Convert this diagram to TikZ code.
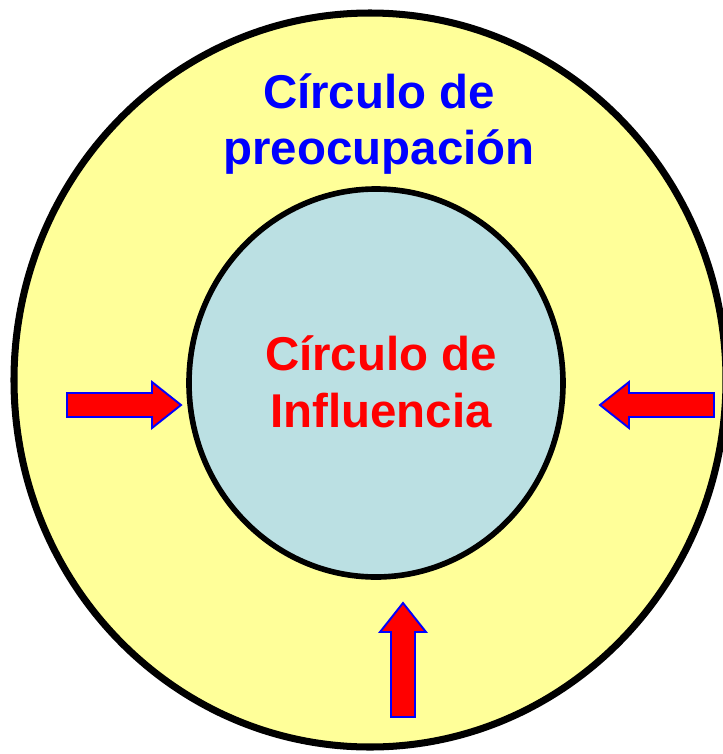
\documentclass[tikz,border=0pt]{standalone}
\usepackage{fontspec}
\setmainfont{Liberation Sans}

\definecolor{concernyellow}{HTML}{FFFF99}
\definecolor{influenceblue}{HTML}{BBE0E3}

\tikzset{
  ring/.style={draw=black},
  label text/.style={font=\bfseries\fontsize{27}{32.2}\selectfont, align=center, inner sep=0pt},
  arrowfill/.style={fill=red, draw=blue, line width=1.1pt, line join=miter},
  pics/pusharrow/.style={code={
    \draw[arrowfill] (-114,-12) -- (-29,-12) -- (-29,-23) -- (0,0)
      -- (-29,23) -- (-29,12) -- (-114,12) -- cycle;
  }}
}

\begin{document}
\begin{tikzpicture}[x=0.02cm, y=-0.02cm]
  \clip (0,0) rectangle (723,754);
  \fill[white] (0,0) rectangle (723,754);

  % the two circles
  \filldraw[ring, fill=concernyellow, line width=4pt] (370,380) ellipse (356 and 367);
  \filldraw[ring, fill=influenceblue, line width=3.2pt] (376,383) ellipse (187 and 194);

  % labels
  \node[label text, text=blue] (concern) at (379,124) {Círculo de\\preocupación};
  \node[label text, text=red] (influence) at (381,382) {Círculo de\\Influencia};

  % arrows pushing inwards
  \pic at (181,405) {pusharrow};
  \pic[rotate=180] at (600,405) {pusharrow};
  \pic[rotate=90] at (403,603) {pusharrow};
\end{tikzpicture}
\end{document}
